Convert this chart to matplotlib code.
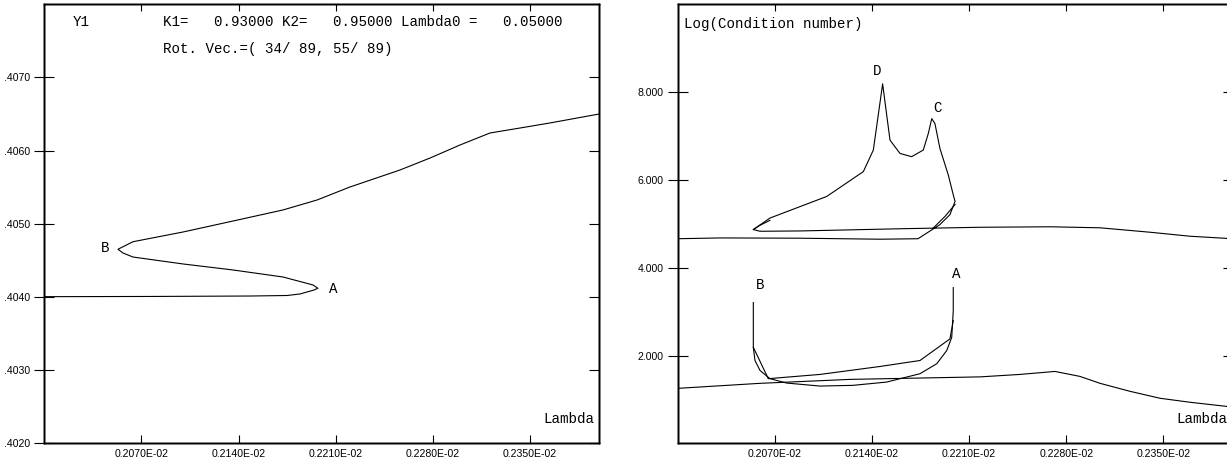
import numpy as np
import matplotlib
matplotlib.use('Agg')
import matplotlib.pyplot as plt

# ---------------- data ----------------
# Left panel: Y1 versus Lambda (Lambda values given in units of 1e-3)
lam_y1 = np.array([2.0000, 2.0762, 2.1483, 2.1749, 2.1843, 2.1893, 2.1944, 2.1972,
                   2.1937, 2.1720, 2.1360, 2.1000, 2.0639, 2.0567, 2.0531,
                   2.0639, 2.1000, 2.1360, 2.1720, 2.1965, 2.2203, 2.2563, 2.2780,
                   2.2996, 2.3212, 2.3428, 2.3644, 2.4000]) * 1e-3
y1 = [0.404004, 0.404007, 0.404013, 0.404020, 0.404041, 0.404068, 0.404095, 0.404119,
      0.404164, 0.404273, 0.404369, 0.404451, 0.404546, 0.404601, 0.404652,
      0.404755, 0.404888, 0.405038, 0.405189, 0.405325, 0.405503, 0.405735, 0.405899,
      0.406077, 0.406241, 0.406309, 0.406378, 0.406501]

# Right panel: log(condition number), lower set (labels A, B)
lam_cond_a = np.array([2.0002, 2.0593, 2.1242, 2.2179, 2.2467, 2.2719, 2.2899, 2.3044,
                       2.3260, 2.3476, 2.3692, 2.4000]) * 1e-3
cond_a = [1.252, 1.366, 1.456, 1.513, 1.569, 1.637, 1.524, 1.366,
          1.184, 1.026, 0.935, 0.825]

lam_cond_ab = np.array([2.1986, 2.1986, 2.1975, 2.1939, 2.1867, 2.1746, 2.1506, 2.1263,
                        2.1026, 2.0786, 2.0665, 2.0593, 2.0557, 2.0545, 2.0545]) * 1e-3
cond_ab = [3.546, 3.019, 2.414, 2.113, 1.812, 1.585, 1.395, 1.320,
           1.304, 1.372, 1.472, 1.660, 1.886, 2.187, 3.207]

lam_cond_ba = np.array([2.0545, 2.0653, 2.1026, 2.1458, 2.1746, 2.1962, 2.1986]) * 1e-3
cond_ba = [2.187, 1.472, 1.569, 1.750, 1.886, 2.378, 2.792]

# Right panel: upper set (labels C, D)
lam_cond_cd = np.array([2.0002, 2.0305, 2.0881, 2.1458, 2.1732, 2.1890, 2.1962, 2.1999,
                        2.1986, 2.1950, 2.1890, 2.1854, 2.1831, 2.1806, 2.1770, 2.1686,
                        2.1602, 2.1530, 2.1477, 2.1410, 2.1338, 2.1074, 2.0665, 2.0545,
                        2.0593, 2.0881, 2.1602, 2.2179, 2.2683, 2.3044, 2.3404, 2.3692,
                        2.4000]) * 1e-3
cond_cd = [4.660, 4.678, 4.672, 4.649, 4.660, 4.982, 5.208, 5.510,
           5.661, 6.114, 6.716, 7.283, 7.396, 7.056, 6.680, 6.529,
           6.603, 6.907, 8.188, 6.680, 6.189, 5.623, 5.131, 4.869,
           4.830, 4.837, 4.887, 4.921, 4.932, 4.909, 4.808, 4.717,
           4.660]
lam_cond_c2 = np.array([2.1999, 2.1927, 2.1840]) * 1e-3
cond_c2 = [5.442, 5.170, 4.898]
lam_cond_d2 = np.array([2.0545, 2.0593, 2.0665]) * 1e-3
cond_d2 = [4.869, 4.966, 5.079]

# ticks
x_ticks = [0.00207, 0.00214, 0.00221, 0.00228, 0.00235]
x_ticklabels = ['0.2070E-02', '0.2140E-02', '0.2210E-02', '0.2280E-02', '0.2350E-02']
y1_ticks = [0.402, 0.403, 0.404, 0.405, 0.406, 0.407]
y1_ticklabels = ['.4020', '.4030', '.4040', '.4050', '.4060', '.4070']
cond_ticks = [2, 4, 6, 8]
cond_ticklabels = ['2.000', '4.000', '6.000', '8.000']

# ---------------- figure ----------------
W, H = 1227, 463
fig = plt.figure(figsize=(W / 100, H / 100), dpi=100)
fig.patch.set_facecolor('white')

mono = ['Liberation Mono', 'DejaVu Sans Mono']
narrow = ['Liberation Sans Narrow', 'Liberation Sans', 'DejaVu Sans']
txt_size = 10.2
tick_size = 7.6
lw_curve = 0.8
lw_frame = 1.0


def px_axes(x0, y0, w, h):
    return fig.add_axes([x0 / W, (H - y0 - h) / H, w / W, h / H])


def style_axes(ax, yticks, yticklabels, ylim):
    ax.set_xlim(0.0020, 0.0024)
    ax.set_ylim(*ylim)
    for s in ax.spines.values():
        s.set_linewidth(lw_frame)
        s.set_color('black')
    ax.set_xticks(x_ticks)
    ax.set_xticklabels(x_ticklabels, family=narrow, fontsize=tick_size,
                       fontstretch='condensed')
    ax.set_yticks(yticks)
    ax.set_yticklabels(yticklabels, family=narrow, fontsize=tick_size,
                       fontstretch='condensed')
    ax.tick_params(axis='x', direction='in', length=6, width=0.8, pad=4,
                   bottom=True, top=False)
    ax.tick_params(axis='y', direction='inout', length=14, width=0.8, pad=3,
                   left=True, right=False)
    # top and right ticks (inward only)
    axt = ax.twiny()
    axt.set_xlim(ax.get_xlim())
    axt.set_xticks(x_ticks)
    axt.tick_params(axis='x', direction='in', length=5, width=0.8, labeltop=False)
    axr = ax.twinx()
    axr.set_ylim(ax.get_ylim())
    axr.set_yticks(yticks)
    axr.tick_params(axis='y', direction='in', length=7, width=0.8, labelright=False)
    for a in (axt, axr):
        for s in a.spines.values():
            s.set_linewidth(lw_frame)


# Left panel
ax1 = px_axes(44.3, 4.3, 555, 439)
ax1.plot(lam_y1, y1, color='black', lw=lw_curve)
style_axes(ax1, y1_ticks, y1_ticklabels, (0.402, 0.408))
ax1.text(0.0512, 0.960, 'Y1', transform=ax1.transAxes, family=mono,
         fontsize=txt_size, ha='left', va='center')
ax1.text(0.2132, 0.960, 'K1=   0.93000 K2=   0.95000 Lambda0 =   0.05000',
         transform=ax1.transAxes, family=mono, fontsize=txt_size, ha='left', va='center')
ax1.text(0.2132, 0.898, 'Rot. Vec.=( 34/ 89, 55/ 89)', transform=ax1.transAxes,
         family=mono, fontsize=txt_size, ha='left', va='center')
ax1.text(0.9905, 0.0554, 'Lambda', transform=ax1.transAxes, family=mono,
         fontsize=txt_size, ha='right', va='center')
ax1.text(0.5202, 0.3508, 'A', transform=ax1.transAxes, family=mono,
         fontsize=txt_size, ha='center', va='center')
ax1.text(0.1095, 0.4456, 'B', transform=ax1.transAxes, family=mono,
         fontsize=txt_size, ha='center', va='center')

# Right panel
ax2 = px_axes(677.7, 4.3, 555, 439)
for lx, ly in [(lam_cond_a, cond_a), (lam_cond_ab, cond_ab), (lam_cond_ba, cond_ba),
               (lam_cond_cd, cond_cd), (lam_cond_c2, cond_c2), (lam_cond_d2, cond_d2)]:
    ax2.plot(lx, ly, color='black', lw=lw_curve)
style_axes(ax2, cond_ticks, cond_ticklabels, (0, 10))
ax2.text(0.0114, 0.955, 'Log(Condition number)', transform=ax2.transAxes, family=mono,
         fontsize=txt_size, ha='left', va='center')
ax2.text(0.9905, 0.0554, 'Lambda', transform=ax2.transAxes, family=mono,
         fontsize=txt_size, ha='right', va='center')
for lab, fx, fy in [('D', 0.3586, 0.848), ('C', 0.4678, 0.7645),
                    ('B', 0.1483, 0.3606), ('A', 0.5014, 0.3856)]:
    ax2.text(fx, fy, lab, transform=ax2.transAxes, family=mono,
             fontsize=txt_size, ha='center', va='center')

fig.savefig('out.png', dpi=100, facecolor='white')
